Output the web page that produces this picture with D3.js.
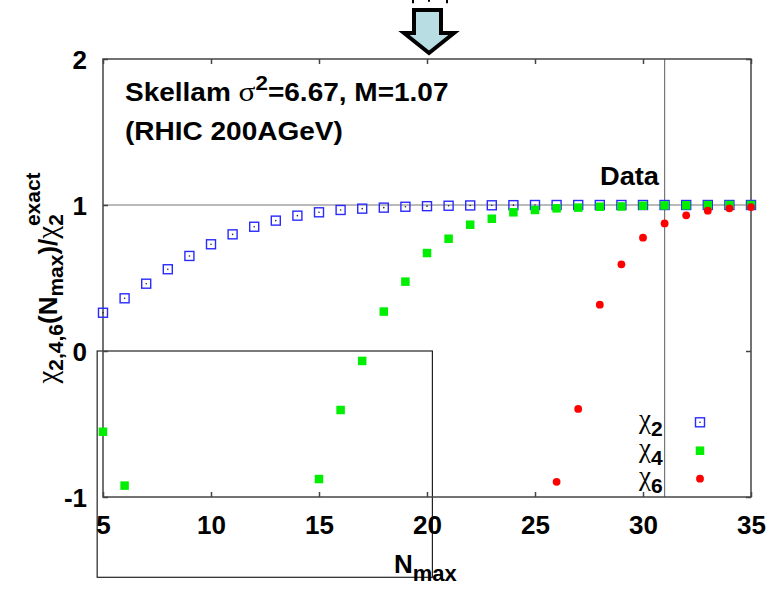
<!DOCTYPE html>
<html>
<head>
<meta charset="utf-8">
<script src="https://cdn.jsdelivr.net/npm/d3@7"></script>
<style>
  body { margin: 0; background: #fff; }
  text { font-family: Arial, "Liberation Sans", sans-serif; font-weight: bold; fill: #000; }
  .greek { font-family: "Liberation Serif", "DejaVu Serif", serif; font-weight: normal; }
</style>
</head>
<body>
<div id="chart"></div>
<script>
// N_max values along the x axis
const nmax = [5, 6, 7, 8, 9, 10, 11, 12, 13, 14, 15, 16, 17, 18, 19, 20,
              21, 22, 23, 24, 25, 26, 27, 28, 29, 30, 31, 32, 33, 34, 35];
// ratio chi_n(Nmax)/chi_2^exact, null = off the plotted range
const chi2 = [0.262, 0.361, 0.461, 0.56, 0.651, 0.731, 0.799, 0.851, 0.893, 0.927, 0.95, 0.966,
              0.975, 0.982, 0.988, 0.992, 0.995, 0.997, 0.998, 0.999, 1, 1, 1, 1, 1, 1, 1, 1, 1, 1, 1];
const chi4 = [-0.553, -0.922, null, null, null, null, null, null, null, null, -0.877, -0.404,
              -0.068, 0.27, 0.475, 0.671, 0.769, 0.865, 0.906, 0.95, 0.966, 0.977, 0.982, 0.988,
              0.99, 0.995, 0.997, 0.998, 0.999, 1, 1];
const chi6 = [null, null, null, null, null, null, null, null, null, null, null, null, null, null,
              null, null, null, null, null, null, null, -0.896, -0.397, 0.317, 0.594, 0.776,
              0.874, 0.929, 0.961, 0.977, 0.986];
const xTicks = [5, 10, 15, 20, 25, 30, 35];
const yTicks = [-1, 0, 1, 2];
const dataN = 31;      // vertical "Data" line
const arrowN = 20;     // arrow at the top
const refY = 1;        // horizontal reference line

const width = 779, height = 592;
const x = d3.scaleLinear().domain([5, 35]).range([103, 751]);
const y = d3.scaleLinear().domain([-1, 2]).range([497, 59]);

const svg = d3.select("#chart").append("svg")
    .attr("width", width)
    .attr("height", height);

// inner annotation box (in data units)
svg.append("rect")
    .attr("x", x(4.73)).attr("y", y(0))
    .attr("width", x(20.25) - x(4.73))
    .attr("height", y(-1.55) - y(0))
    .attr("fill", "none").attr("stroke", "#222").attr("stroke-width", 1.2);

// reference lines
svg.append("line")
    .attr("x1", x(5)).attr("x2", x(35)).attr("y1", y(refY)).attr("y2", y(refY))
    .attr("stroke", "#777").attr("stroke-width", 1.2);
svg.append("line")
    .attr("x1", x(dataN)).attr("x2", x(dataN)).attr("y1", y(2)).attr("y2", y(-1))
    .attr("stroke", "#777").attr("stroke-width", 1.2);

// frame
svg.append("rect")
    .attr("x", x(5)).attr("y", y(2))
    .attr("width", x(35) - x(5)).attr("height", y(-1) - y(2))
    .attr("fill", "none").attr("stroke", "#444").attr("stroke-width", 1.5);

// ticks on all sides, pointing inward
const tl = 5;
const labelStyle = g => g.style("font-size", "26px")
    .style("font-family", "Arial, 'Liberation Sans', sans-serif")
    .style("font-weight", "bold").attr("fill", "#000");
svg.append("g").attr("transform", `translate(0,${y(-1)})`)
    .call(d3.axisBottom(x).tickValues(xTicks).tickSizeInner(-tl).tickSizeOuter(0).tickFormat(d => String(d)))
    .call(g => g.select(".domain").remove())
    .call(g => g.selectAll("line").attr("stroke", "#444").attr("stroke-width", 1.5))
    .call(g => g.selectAll("text").attr("y", 37).attr("dy", 0).call(labelStyle));
svg.append("g").attr("transform", `translate(0,${y(2)})`)
    .call(d3.axisTop(x).tickValues(xTicks).tickSizeInner(-tl).tickSizeOuter(0).tickFormat(""))
    .call(g => g.select(".domain").remove())
    .call(g => g.selectAll("line").attr("stroke", "#444").attr("stroke-width", 1.5));
svg.append("g").attr("transform", `translate(${x(5)},0)`)
    .call(d3.axisLeft(y).tickValues(yTicks).tickSizeInner(-tl).tickSizeOuter(0).tickFormat(d => String(d)))
    .call(g => g.select(".domain").remove())
    .call(g => g.selectAll("line").attr("stroke", "#444").attr("stroke-width", 1.5))
    .call(g => g.selectAll("text").attr("x", -16).attr("dy", "0.36em").call(labelStyle));
svg.append("g").attr("transform", `translate(${x(35)},0)`)
    .call(d3.axisRight(y).tickValues(yTicks).tickSizeInner(-tl).tickSizeOuter(0).tickFormat(""))
    .call(g => g.select(".domain").remove())
    .call(g => g.selectAll("line").attr("stroke", "#444").attr("stroke-width", 1.5));

// markers
const s2 = 9, s4 = 8.5, r6 = 3.9;
const pts = (arr) => nmax.map((n, i) => ({ n, v: arr[i] })).filter(d => d.v !== null);

const blue = svg.append("g");
blue.selectAll("rect").data(pts(chi2)).join("rect")
    .attr("x", d => x(d.n) - s2 / 2).attr("y", d => y(d.v) - s2 / 2)
    .attr("width", s2).attr("height", s2)
    .attr("fill", "none").attr("stroke", "#2a2aff").attr("stroke-width", 1.4);
blue.selectAll("circle").data(pts(chi2)).join("circle")
    .attr("cx", d => x(d.n)).attr("cy", d => y(d.v)).attr("r", 0.8).attr("fill", "#223");

svg.append("g").selectAll("rect").data(pts(chi4)).join("rect")
    .attr("x", d => x(d.n) - s4 / 2).attr("y", d => y(d.v) - s4 / 2)
    .attr("width", s4).attr("height", s4).attr("fill", "#00ee00");

svg.append("g").selectAll("circle").data(pts(chi6)).join("circle")
    .attr("cx", d => x(d.n)).attr("cy", d => y(d.v)).attr("r", r6).attr("fill", "#ff0000");

// legend: chi glyph and subscript as separate small texts
const legend = [
    { sub: "2", y: 0 },
    { sub: "4", y: 28.4 },
    { sub: "6", y: 56.4 }
];
const lg = svg.append("g").attr("transform", "translate(0,422.3)");
legend.forEach((d, i) => {
    lg.append("text").attr("class", "greek").attr("x", 651).attr("y", d.y + 6)
        .attr("text-anchor", "end").style("font-size", "27px").text("χ");
    lg.append("text").attr("x", 651).attr("y", d.y + 14).style("font-size", "21px").text(d.sub);
    if (i === 0) {
        lg.append("rect").attr("x", 695.5).attr("y", d.y - 4.5).attr("width", 9).attr("height", 9)
            .attr("fill", "none").attr("stroke", "#2a2aff").attr("stroke-width", 1.4);
        lg.append("circle").attr("cx", 700).attr("cy", d.y).attr("r", 0.8).attr("fill", "#223");
    } else if (i === 1) {
        lg.append("rect").attr("x", 695.75).attr("y", d.y - 4.25).attr("width", 8.5).attr("height", 8.5)
            .attr("fill", "#00ee00");
    } else {
        lg.append("circle").attr("cx", 700).attr("cy", d.y).attr("r", r6).attr("fill", "#ff0000");
    }
});

// title text (slightly wide glyphs in the original)
const t1 = svg.append("text").attr("transform", "translate(125,101) scale(1.12,1)")
    .style("font-size", "25px");
t1.append("tspan").text("Skellam ");
t1.append("tspan").attr("class", "greek").style("font-size", "28px").text("σ");
t1.append("tspan").attr("dy", -11).style("font-size", "20px").text("2");
t1.append("tspan").attr("dy", 11).text("=6.67, M=1.07");
svg.append("text").attr("transform", "translate(125,140) scale(1.12,1)")
    .style("font-size", "25px").text("(RHIC 200AGeV)");

svg.append("text").attr("transform", "translate(600,185) scale(1.09,1)")
    .style("font-size", "25px").text("Data");

// x axis label
const xl = svg.append("text").attr("x", 394).attr("y", 573).style("font-size", "26px");
xl.append("tspan").text("N");
xl.append("tspan").attr("dy", 8).style("font-size", "22px").text("max");

// y axis label
const yl = svg.append("text").attr("transform", "translate(57,278) rotate(-90)")
    .attr("text-anchor", "middle").style("font-size", "26px");
yl.append("tspan").attr("class", "greek").style("font-size", "29px").text("χ");
yl.append("tspan").attr("dy", 6).style("font-size", "21px").text("2,4,6");
yl.append("tspan").attr("dy", -6).text("(N");
yl.append("tspan").attr("dy", 6).style("font-size", "21px").text("max");
yl.append("tspan").attr("dy", -6).text(")/");
yl.append("tspan").attr("class", "greek").style("font-size", "29px").text("χ");
yl.append("tspan").attr("dy", 6).style("font-size", "21px").text("2");
yl.append("tspan").attr("dy", -23).attr("dx", -12).style("font-size", "21px").text("exact");

// arrow pointing at N = 20
const ax = x(arrowN) + 2;
const arrow = [[-15, 10], [12, 10], [12, 33], [25, 33], [0, 53], [-25, 33], [-15, 33]];
svg.append("path")
    .attr("d", d3.line()(arrow.map(p => [ax + p[0], p[1]])) + "Z")
    .attr("fill", "#b8dde2").attr("stroke", "#000").attr("stroke-width", 4)
    .attr("stroke-linejoin", "miter");

// cut-off fragments of text above the arrow
[[-16, 3.3], [0, 1.7], [18, 3.3]].forEach(([dx, h]) => {
    svg.append("line").attr("x1", ax + dx).attr("x2", ax + dx).attr("y1", 0).attr("y2", h)
        .attr("stroke", "#000").attr("stroke-width", 2);
});
</script>
</body>
</html>
